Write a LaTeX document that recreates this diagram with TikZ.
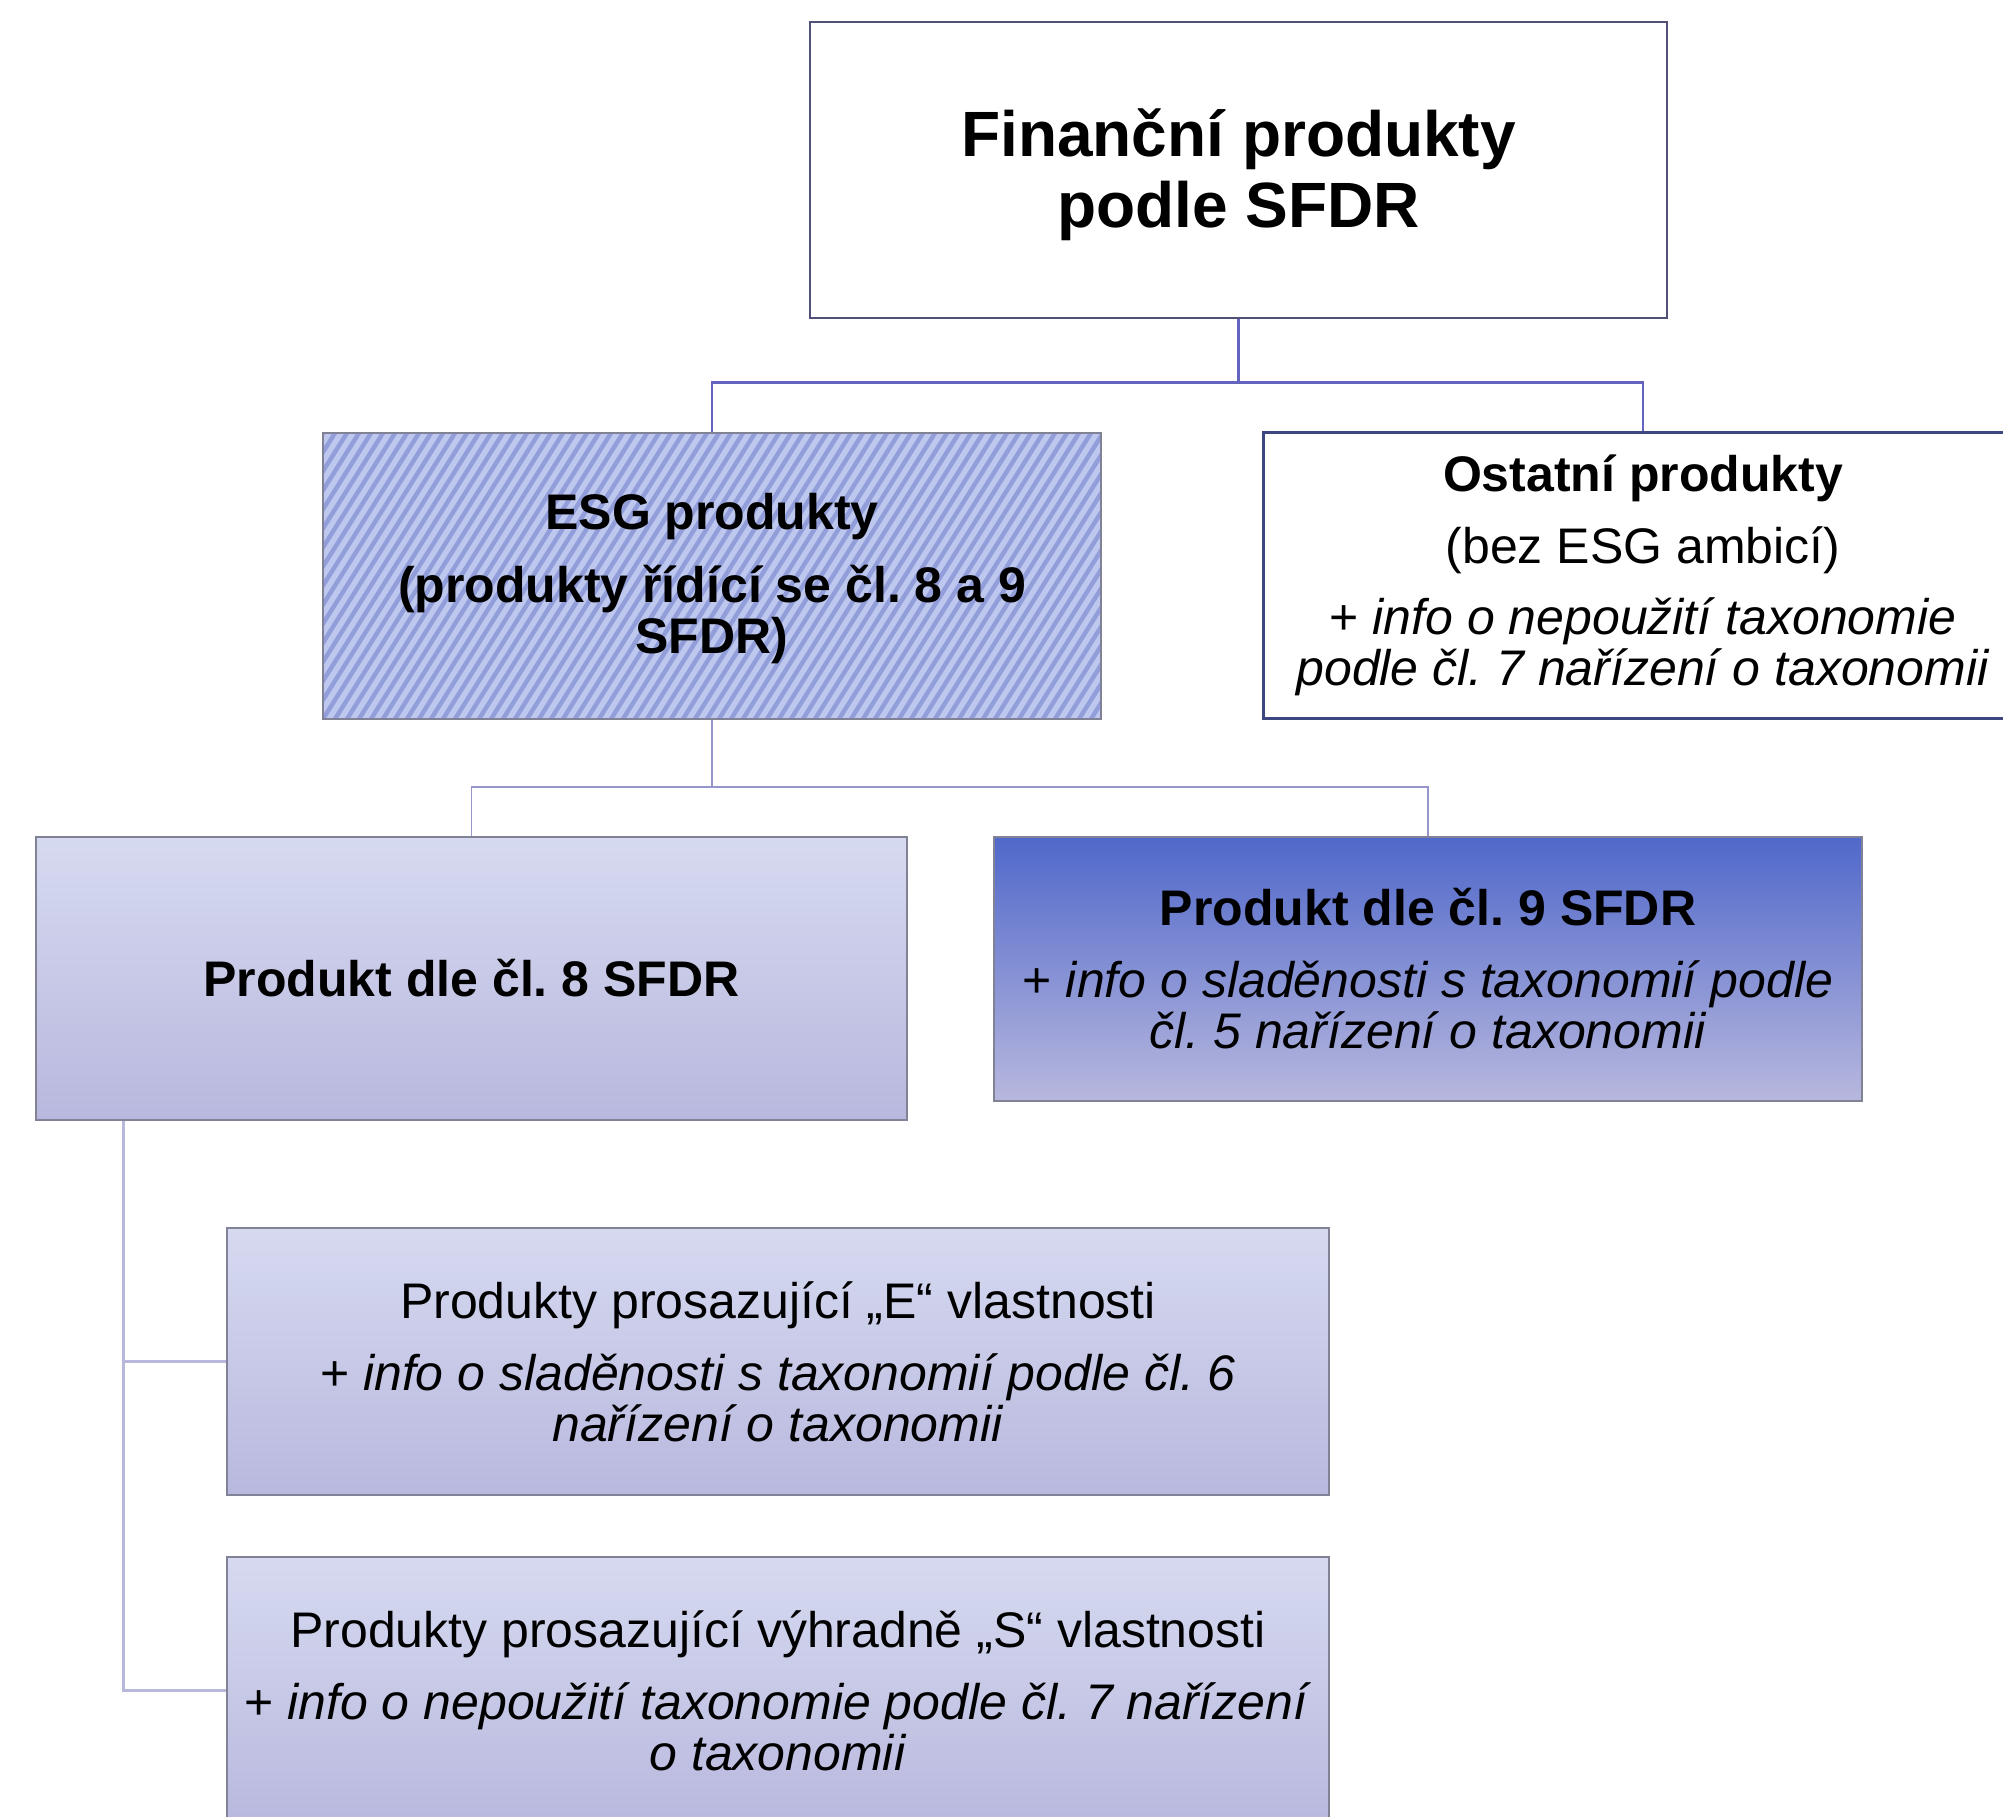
\documentclass[tikz,border=0pt]{standalone}
\usepackage{fontspec}
\setmainfont{Liberation Sans}
\frenchspacing
\definecolor{gtop}{RGB}{214,218,240}
\definecolor{gbot}{RGB}{184,184,222}
\definecolor{btop}{RGB}{80,104,202}
\definecolor{bmid}{RGB}{168,174,224}
\definecolor{hatchbg}{RGB}{190,200,238}
\definecolor{hatchfg}{RGB}{146,158,218}
\definecolor{conA}{RGB}{100,100,190}
\definecolor{conB}{RGB}{150,150,205}
\definecolor{conC}{RGB}{184,184,220}
\definecolor{bordA}{RGB}{80,80,120}
\definecolor{bordB}{RGB}{60,70,128}
\definecolor{bordG}{RGB}{130,130,150}
\begin{document}
\begin{tikzpicture}[x=1pt,y=-1pt,
  box/.style={rectangle, inner sep=0pt, align=center, font=\fontsize{50}{51}\selectfont},
  txt/.style={inner sep=0pt, align=center},
  gradbox/.style={box, draw=bordG, line width=2pt, top color=gtop, bottom color=gbot},
  conmain/.style={draw=conA, line width=2.8pt},
  conesg/.style={draw=conB, line width=1.8pt},
  conleft/.style={draw=conC, line width=3pt}]
\fill[white] (0,0) rectangle (2003,1816);
\clip (0,0) rectangle (2003,1816);

\node[box, draw=bordA, line width=2.5pt, fill=white, minimum width=857pt, minimum height=296pt] (top) at (1238.5,170) {};
\node[txt, font=\bfseries\fontsize{64}{71}\selectfont] (toptxt) at ([yshift=-5pt]top.center) {Finanční produkty\\podle SFDR};

\node[box, draw=bordG, line width=1.5pt, fill=hatchbg, minimum width=778pt, minimum height=286pt,
  path picture={\foreach \i in {-20,...,70}
    {\draw[hatchfg, line width=4.4pt] ([xshift=\i*12pt]path picture bounding box.south west) -- ++(180pt,286pt);}}]
  (esg) at (712,576) {};
\node[txt, font=\bfseries\fontsize{50}{51}\selectfont] (esgtxt) at ([yshift=-3pt]esg.center) {ESG produkty\\[22pt](produkty řídící se čl. 8 a 9\\SFDR)};

\node[box, draw=bordB, line width=3pt, fill=white, minimum width=760pt, minimum height=286pt]
  (ost) at (1643,575) {\textbf{Ostatní produkty}\\[21pt](bez ESG ambicí)\\[20pt]+ \textit{info o nepoužití taxonomie}\\\textit{podle čl. 7 nařízení o taxonomii}};

\node[gradbox, minimum width=871pt, minimum height=283pt, font=\bfseries\fontsize{50}{51}\selectfont]
  (p8) at (471.5,978.5) {Produkt dle čl. 8 SFDR};

\node[box, draw=bordG, line width=2pt, top color=btop, middle color=bmid, bottom color=gbot,
  minimum width=868pt, minimum height=264pt]
  (p9) at (1428,969) {\textbf{Produkt dle čl. 9 SFDR}\\[21pt]+ \textit{info o sladěnosti s taxonomií podle}\\\textit{čl. 5 nařízení o taxonomii}};

\node[gradbox, minimum width=1102pt, minimum height=267pt]
  (pe) at (778,1361.5) {Produkty prosazující „E“ vlastnosti\\[21pt]+ \textit{info o sladěnosti s taxonomií podle čl. 6}\\\textit{nařízení o taxonomii}};

\node[gradbox, minimum width=1102pt, minimum height=267pt]
  (ps) at (778,1690.5) {Produkty prosazující výhradně „S“ vlastnosti\\[21pt]+ \textit{info o nepoužití taxonomie podle čl. 7 nařízení}\\\textit{o taxonomii}};

% connectors
\draw[conmain] (top.south) -- ++(0,63) coordinate (j1) -| (esg.north);
\draw[conmain] (j1) -| (ost.north);
\draw[conesg] (esg.south) -- ++(0,67) coordinate (j2) -| (p8.north);
\draw[conesg] (j2) -| (p9.north);
\coordinate (lt) at ([xshift=88pt]p8.south west);
\draw[conleft] (lt) |- (pe.west);
\draw[conleft] (lt) |- (ps.west);
\end{tikzpicture}
\end{document}
